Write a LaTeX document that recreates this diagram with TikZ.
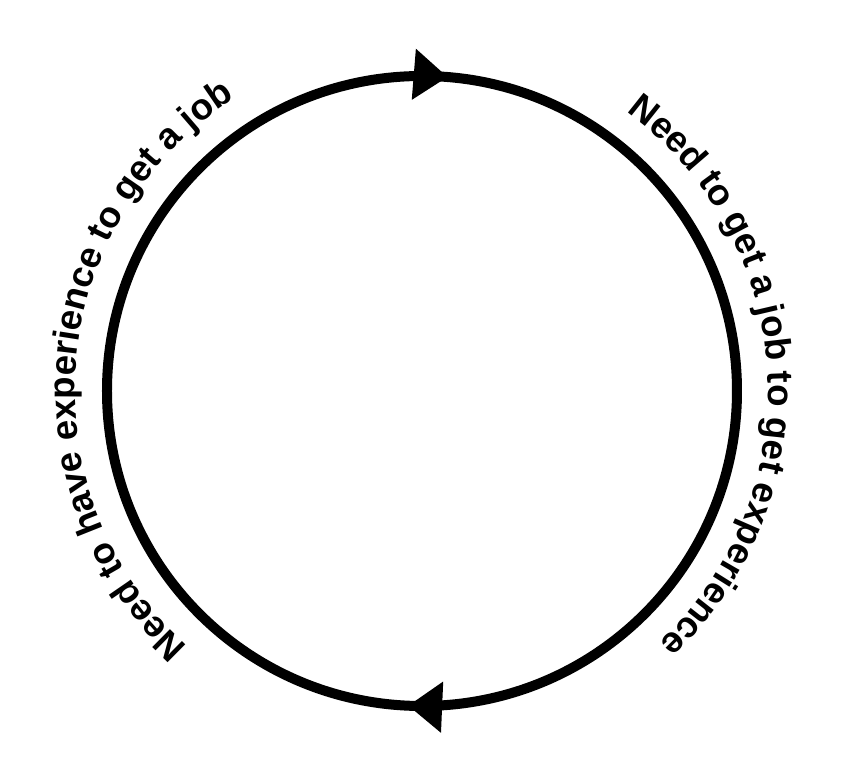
\documentclass[tikz,border=0pt]{standalone}
\usepackage{fontspec}
\setmainfont{Liberation Sans}
\usepackage{tikz}
\usetikzlibrary{arrows.meta,decorations.text,decorations.markings}
\definecolor{ink}{RGB}{0,0,0}
\newcommand{\arcfont}{\fontsize{27.5pt}{33pt}\selectfont\bfseries}
\tikzset{
  ring/.style={draw=ink,line width=7.5pt,postaction={decorate},
    decoration={markings,
      mark=at position 0.013 with {\arrow{Triangle[length=25.5pt,width=36.75pt]}},
      mark=at position 0.507 with {\arrow{Triangle[length=25.5pt,width=36.75pt]}}}},
  arctext/.style={decorate,decoration={text along path,text align=center,
    text color=ink,text={#1}}},
}

\begin{document}
\begin{tikzpicture}[x=0.75pt,y=0.75pt]
  \useasboundingbox (-422,-393) rectangle (422,391);
  \coordinate (c) at (0,0);
  % the cycle, running clockwise
  \draw[ring] (c) ++(90:315) arc[start angle=90,end angle=-270,radius=315];
  % texts round the outside
  \path[arctext={|\arcfont|Need to get a job to get experience}]
    (c) ++(58:346) arc[start angle=58,end angle=-51,radius=346];
  \path[arctext={|\arcfont|Need to have experience to get a job}]
    (c) ++(230:347) arc[start angle=230,end angle=120,radius=347];
\end{tikzpicture}
\end{document}
